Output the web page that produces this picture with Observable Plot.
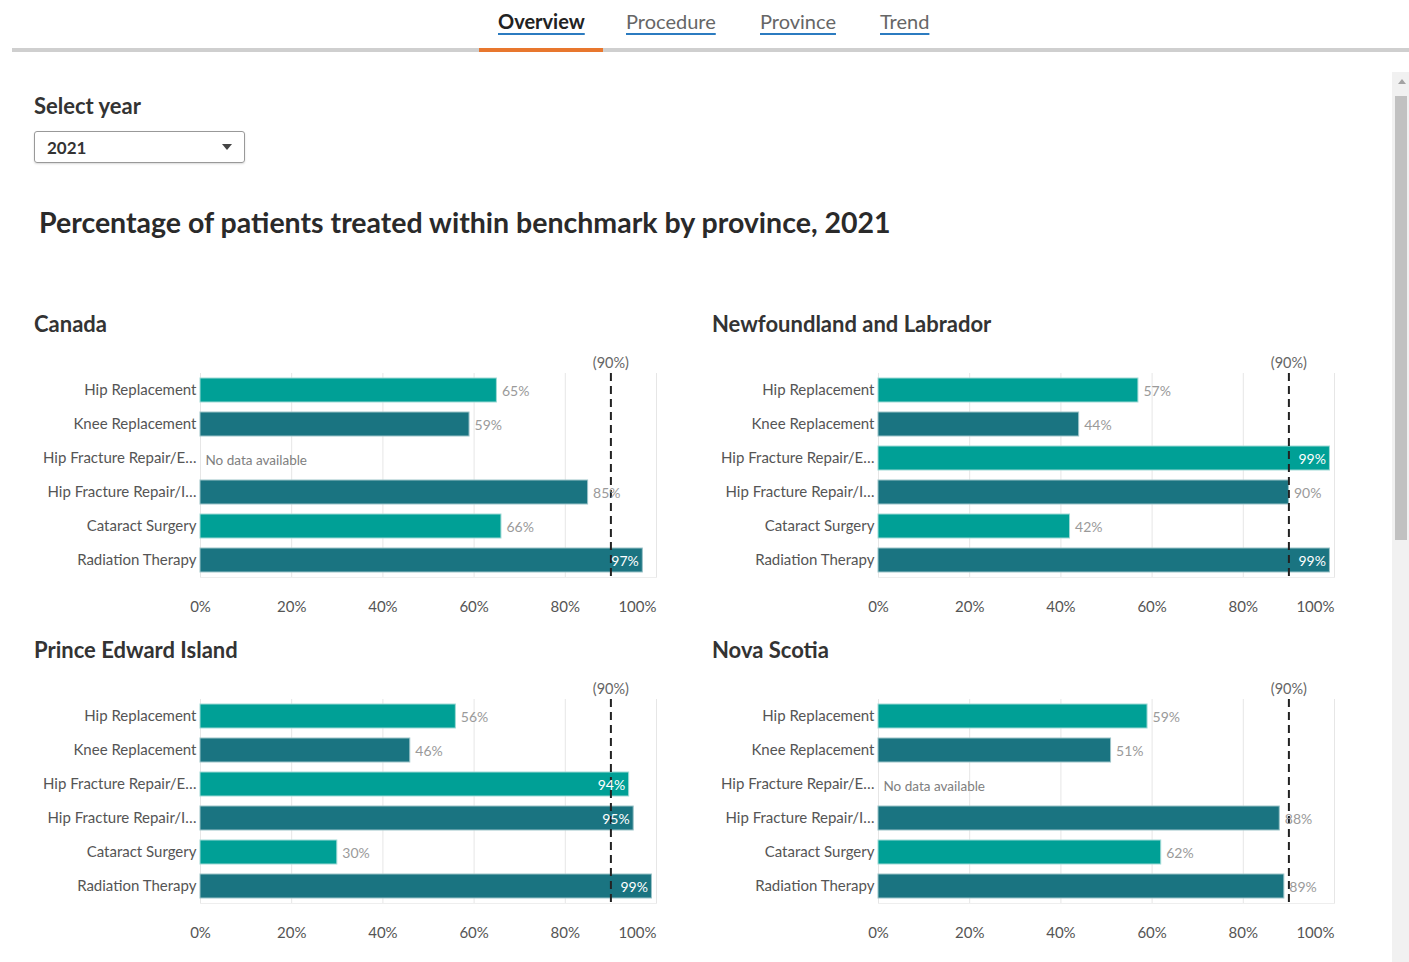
<!DOCTYPE html>
<html>
<head>
<meta charset="utf-8">
<script src="https://cdn.jsdelivr.net/npm/d3@7"></script>
<script src="https://cdn.jsdelivr.net/npm/@observablehq/plot@0.6"></script>
<style>
  html, body { margin: 0; padding: 0; background: #fff; font-family: Lato, "Noto Sans", sans-serif; }
  body { width: 1409px; height: 962px; position: relative; overflow: hidden; }
  .abs { position: absolute; }
  .tab { position: absolute; top: 9px; font-size: 20px; color: #666; text-decoration: underline; text-decoration-color: #2b7bc0; text-underline-offset: 4px; text-decoration-thickness: 2px; }
  .tab.active { color: #222; font-weight: 700; }
  .ptitle { position: absolute; font-size: 22px; font-weight: 700; color: #333; white-space: nowrap; }
  .panel { position: absolute; }
</style>
</head>
<body>
<div class="tab active" style="left:498px">Overview</div>
<div class="tab" style="left:626px">Procedure</div>
<div class="tab" style="left:760px">Province</div>
<div class="tab" style="left:880px">Trend</div>
<div class="abs" style="left:12px;top:48px;width:1397px;height:4px;background:#cfcfcf"></div>
<div class="abs" style="left:479px;top:48px;width:124px;height:4px;background:#e8772e"></div>

<div class="abs" style="left:1392px;top:72px;width:17px;height:890px;background:#f1f1f1"></div>
<div class="abs" style="left:1395px;top:96px;width:12px;height:444px;background:#c1c1c1"></div>
<div class="abs" style="left:1398px;top:79px;width:0;height:0;border-left:4px solid transparent;border-right:4px solid transparent;border-bottom:5px solid #a3a3a3"></div>

<div class="abs" style="left:34px;top:92px;font-size:22px;font-weight:700;color:#333">Select year</div>
<div class="abs" style="left:34px;top:131px;width:209px;height:30px;border:1px solid #999;border-radius:3px;box-shadow:0 1px 2px rgba(0,0,0,0.15)">
  <span class="abs" style="left:12px;top:5px;font-size:17px;font-weight:700;color:#333">2021</span>
  <span class="abs" style="left:187px;top:12px;width:0;height:0;border-left:5px solid transparent;border-right:5px solid transparent;border-top:6px solid #444"></span>
</div>

<div class="abs" style="left:39px;top:205px;font-size:28.5px;font-weight:700;color:#2a2a2a;white-space:nowrap">Percentage of patients treated within benchmark by province, 2021</div>

<div id="panels"></div>

<script>
const procedures = ["Hip Replacement", "Knee Replacement", "Hip Fracture Repair/E…", "Hip Fracture Repair/I…", "Cataract Surgery", "Radiation Therapy"];
const provinces = ["Canada", "Newfoundland and Labrador", "Prince Edward Island", "Nova Scotia"];
const canadaValues = [65, 59, null, 85, 66, 97];
const nlValues = [57, 44, 99, 90, 42, 99];
const peiValues = [56, 46, 94, 95, 30, 99];
const nsValues = [59, 51, null, 88, 62, 89];
const benchmark = 90;
const xTicks = [0, 20, 40, 60, 80, 100];

const seriesList = [canadaValues, nlValues, peiValues, nsValues];
const positions = [[34, 310], [712, 310], [34, 636], [712, 636]];
const colorA = "#00a096", colorB = "#1a7481";

const container = document.getElementById("panels");
provinces.forEach((prov, k) => {
  const [left, top] = positions[k];
  const t = document.createElement("div");
  t.className = "ptitle";
  t.style.left = left + "px";
  t.style.top = top + "px";
  t.textContent = prov;
  container.appendChild(t);

  const data = procedures.map((p, i) => ({proc: p, value: seriesList[k][i], idx: i}));
  const withVal = data.filter(d => d.value != null);

  const chart = Plot.plot({
    width: 646,
    height: 275,
    marginTop: 28,
    marginBottom: 43,
    marginLeft: 166,
    marginRight: 24,
    style: {fontFamily: "Lato, 'Noto Sans', sans-serif", background: "transparent"},
    x: {domain: [0, 100]},
    y: {domain: procedures, paddingInner: 0.3, paddingOuter: 0.15},
    marks: [
      Plot.gridX(xTicks, {stroke: "#e6e6e6", strokeOpacity: 1}),
      Plot.frame({anchor: "bottom", stroke: "#eeeeee"}),
      Plot.barX(withVal, {
        x: "value", y: "proc",
        fill: d => (d.idx % 2 === 0 ? colorA : colorB),
        stroke: d => (d.idx % 2 === 0 ? "#9fd9d5" : "#9cc3c8"),
        strokeWidth: 1
      }),
      Plot.ruleX([benchmark], {stroke: "#222", strokeWidth: 2, strokeDasharray: "8,5"}),
      Plot.text([benchmark], {x: d => d, frameAnchor: "top", dy: -16, text: d => `(${d}%)`, fill: "#666", fontSize: 14.5}),
      Plot.text(withVal.filter(d => d.value <= benchmark), {
        x: "value", y: "proc", text: d => d.value + "%", textAnchor: "start", dx: 5, dy: 1,
        fill: "#9a9a9a", fontSize: 14
      }),
      Plot.text(withVal.filter(d => d.value > benchmark), {
        x: "value", y: "proc", text: d => d.value + "%", textAnchor: "end", dx: -4, dy: 1,
        fill: "#ffffff", fontSize: 14
      }),
      Plot.text(data.filter(d => d.value == null), {
        x: () => 0, y: "proc", text: () => "No data available", textAnchor: "start", dx: 5, dy: 2,
        fill: "#808080", fontSize: 13.5
      }),
      Plot.axisY({tickSize: 0, tickPadding: 4, fontSize: 15, fill: "#555", label: null}),
      Plot.axisX(xTicks.slice(0, -1), {tickSize: 0, tickPadding: 24, fontSize: 15, fill: "#555", label: null, tickFormat: d => d + "%"}),
      Plot.axisX(xTicks.slice(-1), {tickSize: 0, tickPadding: 24, fontSize: 15, fill: "#555", label: null, textAnchor: "end", tickFormat: d => d + "%"})
    ]
  });
  chart.classList.add("panel");
  chart.style.left = left + "px";
  chart.style.top = (top + 35) + "px";
  container.appendChild(chart);
});
</script>
</body>
</html>
